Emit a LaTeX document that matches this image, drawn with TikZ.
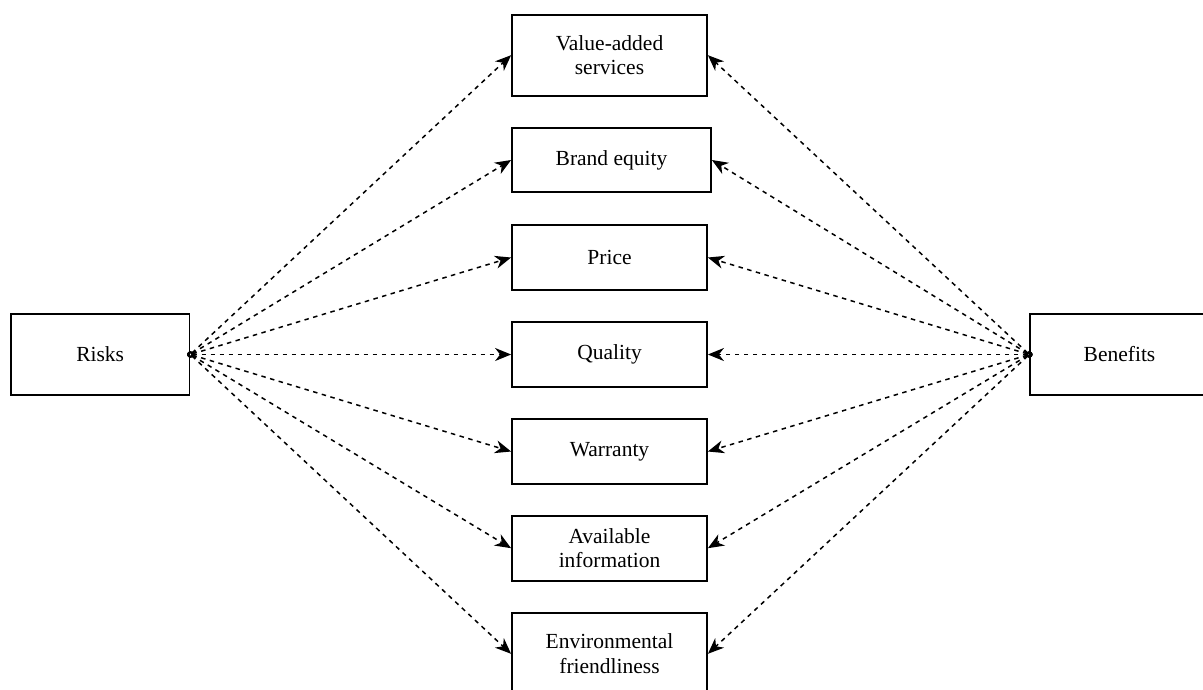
\documentclass[tikz,border=0pt]{standalone}
\usepackage{fontspec}
\setmainfont{Liberation Serif}
\usetikzlibrary{arrows.meta}
\begin{document}
\begin{tikzpicture}[x=1pt,y=-1pt,
  box/.style={draw, line width=1.8pt, fill=white, inner sep=0pt, align=center,
    font=\fontsize{21.5}{24.5}\selectfont, minimum width=195pt, minimum height=65pt},
  tallbox/.style={box, minimum height=81pt},
  sidebox/.style={box, minimum width=178.5pt, minimum height=81pt},
  conn/.style={line width=1.5pt, dash pattern=on 4.5pt off 4.5pt,
    {Circle[length=6pt,width=6pt,open=false]}-{Stealth[length=16pt,width=13pt,inset=5pt]},
    shorten <=-3pt}
]
\useasboundingbox (0,0) rectangle (1203,689);
\clip (0,0) rectangle (1203,689);

% side boxes
\node[sidebox] (risks) at (100.2,354.5) {Risks};
\node[sidebox] (benefits) at (1119.5,354.5) {Benefits};

% attribute boxes in the middle column
\node[tallbox] (m1) at (609.5,55.2) {Value-added\\services};
\node[box, minimum width=199pt, minimum height=64.5pt] (m2) at (611.5,160) {Brand equity};
\node[box] (m3) at (609.5,257.5) {Price};
\node[box] (m4) at (609.5,354.5) {Quality};
\node[box] (m5) at (609.5,451.5) {Warranty};
\node[box] (m6) at (609.5,548.2) {Available\\information};
\node[tallbox] (m7) at (609.5,653.8) {Environmental\\friendliness};

% dashed links from both sides
\foreach \m in {m1,m2,m3,m4,m5,m6,m7}{
  \draw[conn] (risks.east) -- (\m.west);
  \draw[conn] (benefits.west) -- (\m.east);
}
\end{tikzpicture}
\end{document}
